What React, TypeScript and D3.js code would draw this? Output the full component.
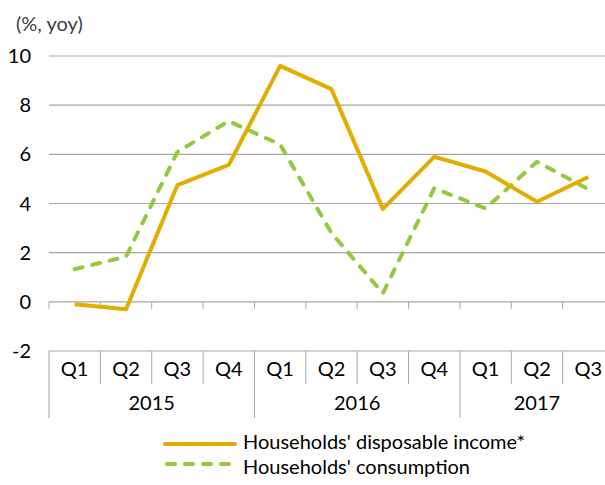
import React from "react";
import * as d3 from "d3";

const quarters = ["Q1", "Q2", "Q3", "Q4", "Q1", "Q2", "Q3", "Q4", "Q1", "Q2", "Q3"];
const years = ["2015", "2016", "2017"];
const yearSpans = [4, 4, 3];
const income = [-0.1, -0.3, 4.75, 5.57, 9.6, 8.65, 3.78, 5.9, 5.3, 4.07, 5.08];
const consumption = [1.33, 1.84, 6.1, 7.35, 6.4, 2.8, 0.35, 4.62, 3.8, 5.7, 4.58];
const yTicks = [-2, 0, 2, 4, 6, 8, 10];
const seriesNames = ["Households' disposable income*", "Households' consumption"];

const W = 605, H = 485;
const left = 49, right = 614;
const FONT = "Lato, sans-serif";

export default function App() {
  const idx = quarters.map((_, i) => i);
  const x = d3.scaleBand<number>().domain(idx).range([left, right]);
  const y = d3.scaleLinear().domain([-2, 10]).range([351, 56]);
  const bw = x.bandwidth();
  const cx = (i: number) => (x(i) as number) + bw / 2;
  const line = d3.line<number>().x((_, i) => cx(i)).y((d) => y(d));
  const yearStarts: number[] = [];
  let acc = 0;
  yearSpans.forEach((s) => { yearStarts.push(acc); acc += s; });
  const gridColor = "#a6a6a6";
  const incomeColor = "#e2ad00";
  const consColor = "#95c93d";
  return (
    <svg width={W} height={H} style={{ position: "absolute", left: 0, top: 0 }} fontFamily={FONT}>
      <text x={16} y={31} fontSize={20} fill="#404040">(%, yoy)</text>
      {yTicks.map((t) => (
        <g key={t}>
          {t > 0 && <line x1={left} x2={W} y1={y(t)} y2={y(t)} stroke={gridColor} strokeWidth={1.2} />}
          <text x={31} y={y(t) + 7} fontSize={20} textAnchor="end" fill="#000">{t}</text>
        </g>
      ))}
      <line x1={left} x2={W} y1={y(0)} y2={y(0)} stroke={gridColor} strokeWidth={1.2} />
      {idx.map((i) => (
        <line key={"t" + i} x1={x(i) as number} x2={x(i) as number} y1={y(0)} y2={y(0) + 7} stroke={gridColor} strokeWidth={1} />
      ))}
      <line x1={left} x2={W} y1={y(-2)} y2={y(-2)} stroke={gridColor} strokeWidth={1.2} />
      {idx.map((i) => {
        const isYear = yearStarts.includes(i);
        return (
          <line key={"s" + i} x1={x(i) as number} x2={x(i) as number} y1={y(-2)} y2={isYear ? 418 : 384} stroke={gridColor} strokeWidth={1} />
        );
      })}
      {quarters.map((q, i) => (
        <text key={"q" + i} x={cx(i)} y={376} fontSize={20} textAnchor="middle" fill="#000">{q}</text>
      ))}
      {years.map((yr, k) => {
        const a = x(yearStarts[k]) as number;
        const b = a + bw * yearSpans[k];
        return <text key={yr} x={(a + b) / 2} y={410} fontSize={20} textAnchor="middle" fill="#000">{yr}</text>;
      })}
      <path d={line(consumption) || ""} fill="none" stroke={consColor} strokeWidth={4} strokeDasharray="8 10" strokeLinecap="round" strokeLinejoin="round" />
      <path d={line(income) || ""} fill="none" stroke={incomeColor} strokeWidth={4} strokeLinejoin="round" />
      <line x1={165} x2={235} y1={444} y2={444} stroke={incomeColor} strokeWidth={4} strokeLinecap="round" />
      <text x={243} y={449} fontSize={20} fill="#000">{seriesNames[0]}</text>
      <line x1={167} x2={235} y1={464} y2={464} stroke={consColor} strokeWidth={4} strokeDasharray="8 10" strokeLinecap="round" />
      <text x={243} y={474} fontSize={20} fill="#000">{seriesNames[1]}</text>
    </svg>
  );
}
